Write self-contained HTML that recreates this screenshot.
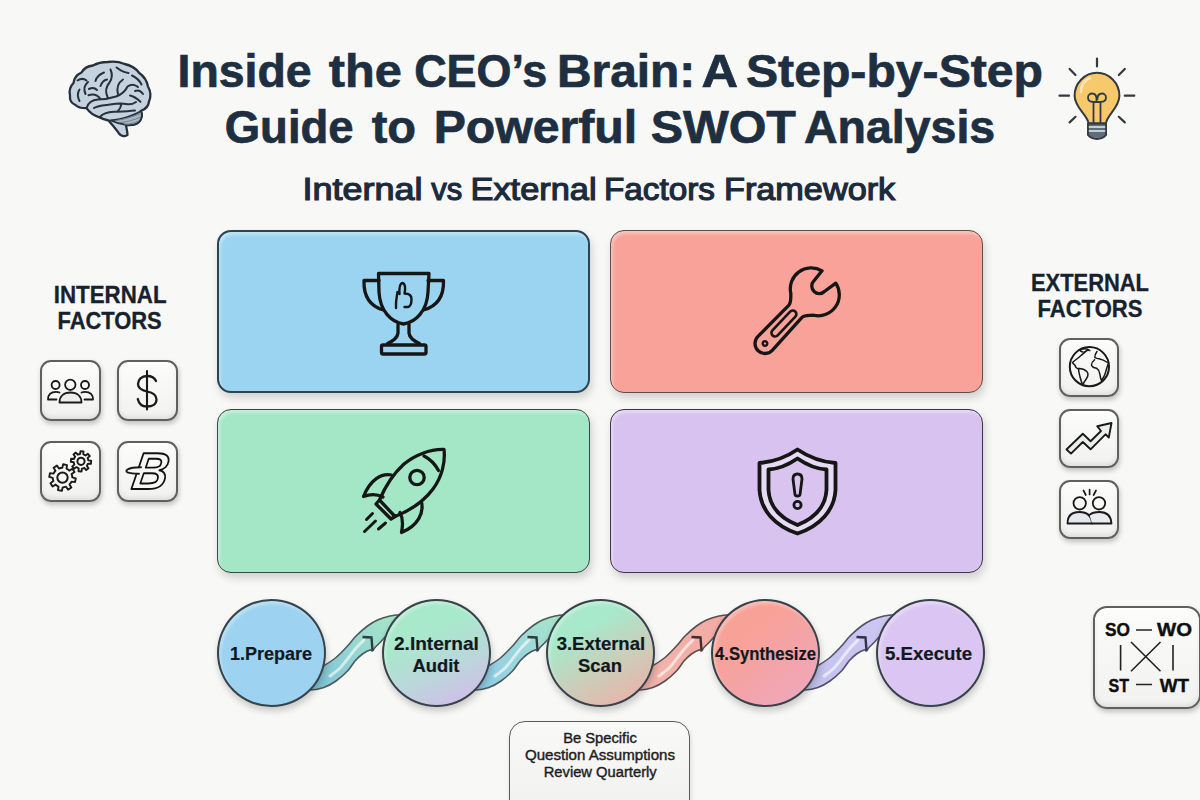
<!DOCTYPE html>
<html><head><meta charset="utf-8">
<style>
*{margin:0;padding:0;box-sizing:border-box}
html,body{width:1200px;height:800px;overflow:hidden;background:#f8f8f6}
body{position:relative;font-family:"Liberation Sans",sans-serif;color:#1c2b3b}
.abs{position:absolute}
.t{position:absolute;white-space:nowrap;line-height:1}
.quad{position:absolute;width:373px;height:163px;border-radius:14px;border:1.8px solid #3b4146;box-shadow:2px 5px 8px rgba(0,0,0,.16), inset 2px 3px 3px rgba(255,255,255,.35)}
.tile{position:absolute;width:61px;height:61px;border-radius:11px;border:2px solid #606060;background:linear-gradient(#fcfcfb,#f1f1f0);box-shadow:1px 3px 5px rgba(0,0,0,.22), inset 0 2px 2px rgba(255,255,255,.9), inset 0 -3px 4px rgba(0,0,0,.07)}
.circ{position:absolute;width:109px;height:108px;border-radius:50%;border:2.2px solid #37424a;box-shadow:1px 4px 7px rgba(0,0,0,.2), inset 2px 3px 3px rgba(255,255,255,.3)}
.lbl{position:absolute;font-weight:bold;text-align:center;color:#111a22;line-height:1}
</style></head><body>

<!-- quadrants -->
<div class="quad" style="left:217px;top:230px;background:#9bd4f0;border-color:#2c4350;border-width:2px"></div>
<div class="quad" style="left:610px;top:230px;background:#f8a29a;border-color:#5f4e4b;border-width:1.9px"></div>
<div class="quad" style="left:217px;top:409px;height:164px;background:#a3e7c6;border-color:#36483f"></div>
<div class="quad" style="left:610px;top:409px;height:164px;background:#d8c2f0;border-color:#3d3548"></div>

<!-- tiles -->
<div class="tile" style="left:40px;top:360px"></div>
<div class="tile" style="left:117px;top:360px"></div>
<div class="tile" style="left:40px;top:441px"></div>
<div class="tile" style="left:117px;top:441px"></div>
<div class="tile" style="left:1059px;top:338px;width:60px;height:59px"></div>
<div class="tile" style="left:1059px;top:409px;width:60px;height:59px"></div>
<div class="tile" style="left:1059px;top:480px;width:60px;height:59px"></div>

<!-- SWOT matrix tile -->
<div class="tile" style="left:1093px;top:606px;width:108px;height:103px;border-radius:14px"></div>

<!-- tips box -->
<div class="abs" style="left:509px;top:721px;width:181px;height:100px;border-radius:16px;border:1.8px solid #5a5a5a;background:linear-gradient(#f9f9f8,#f0f0ef);box-shadow:1px 3px 5px rgba(0,0,0,.12)"></div>


<!-- connectors -->
<svg class="abs" style="left:0;top:0" width="1200" height="800" viewBox="0 0 1200 800">
<defs>
<linearGradient id="cg1" gradientUnits="userSpaceOnUse" x1="310" y1="690" x2="395" y2="615"><stop offset="0" stop-color="#7cc2d8"/><stop offset=".45" stop-color="#92d3d2"/><stop offset="1" stop-color="#a8e6c8"/></linearGradient>
<linearGradient id="cg2" gradientUnits="userSpaceOnUse" x1="310" y1="690" x2="395" y2="615"><stop offset="0" stop-color="#8ecbe8"/><stop offset=".5" stop-color="#9cd6dc"/><stop offset="1" stop-color="#a8e6c8"/></linearGradient>
<linearGradient id="cg3" gradientUnits="userSpaceOnUse" x1="310" y1="690" x2="395" y2="615"><stop offset="0" stop-color="#f0b6ac"/><stop offset="1" stop-color="#f4aaa4"/></linearGradient>
<linearGradient id="cg4" gradientUnits="userSpaceOnUse" x1="310" y1="690" x2="395" y2="615"><stop offset="0" stop-color="#c2c2ee"/><stop offset="1" stop-color="#cdc7f2"/></linearGradient>
<path id="cp" d="M305.0 673.0 C307.2 672.2 314.8 669.8 318.0 668.5 C321.2 667.2 321.0 667.3 324.0 665.5 C327.0 663.7 332.1 660.8 336.0 657.5 C339.9 654.2 344.2 649.6 347.5 646.0 C350.8 642.4 352.7 639.3 356.0 636.0 C359.3 632.7 363.9 628.7 367.5 626.0 C371.1 623.3 373.8 621.7 377.5 620.0 C381.2 618.3 385.4 616.9 390.0 616.0 C394.6 615.1 402.5 614.8 405.0 614.5 L381 641.5C380.0 642.5 376.4 645.9 375.0 647.5 C373.6 649.1 373.3 650.6 372.5 651.0 C371.7 651.4 371.7 649.5 370.0 650.0 C368.3 650.5 365.0 652.2 362.5 654.0 C360.0 655.8 357.5 658.2 355.0 661.0 C352.5 663.8 350.7 667.7 347.5 671.0 C344.3 674.3 340.0 678.2 336.0 681.0 C332.0 683.8 327.9 686.0 323.8 687.5 C319.6 689.0 315.3 689.8 311.0 690.0 C306.7 690.2 300.2 689.2 298.0 689.0Z"/>
<path id="cm" d="M330.0 676.0 C331.7 674.7 336.8 671.2 340.0 668.0 C343.2 664.8 346.2 660.5 349.0 657.0 C351.8 653.5 354.5 649.8 357.0 647.0 C359.5 644.2 362.8 641.2 364.0 640.0"/>
<path id="ca" d="M362.5 637 L371.5 637.5 L372.5 650.5"/>
</defs>
<g>
<use href="#cp" fill="url(#cg1)" stroke="#4d5a5c" stroke-width="1.6"/><use href="#cm" fill="none" stroke="#ffffff" stroke-opacity=".6" stroke-width="3" stroke-linecap="round"/><use href="#ca" fill="none" stroke="#2f3b3d" stroke-width="2.4"/>
</g>
<g transform="translate(165,0)">
<use href="#cp" fill="url(#cg2)" stroke="#4d5a5c" stroke-width="1.6"/><use href="#cm" fill="none" stroke="#ffffff" stroke-opacity=".6" stroke-width="3" stroke-linecap="round"/><use href="#ca" fill="none" stroke="#2f3b3d" stroke-width="2.4"/>
</g>
<g transform="translate(329,0)">
<use href="#cp" fill="url(#cg3)" stroke="#5c4f4f" stroke-width="1.6"/><use href="#cm" fill="none" stroke="#ffffff" stroke-opacity=".6" stroke-width="3" stroke-linecap="round"/><use href="#ca" fill="none" stroke="#3d2f2f" stroke-width="2.4"/>
</g>
<g transform="translate(494,0)">
<use href="#cp" fill="url(#cg4)" stroke="#54506a" stroke-width="1.6"/><use href="#cm" fill="none" stroke="#ffffff" stroke-opacity=".6" stroke-width="3" stroke-linecap="round"/><use href="#ca" fill="none" stroke="#34304a" stroke-width="2.4"/>
</g>
</svg>

<!-- circles -->
<div class="circ" style="left:217px;top:599px;background:#9dd3f0"></div>
<div class="circ" style="left:382px;top:599px;background:linear-gradient(155deg,#a8e8cb 35%,#bcd6dc 65%,#d6b6ea)"></div>
<div class="circ" style="left:546px;top:599px;background:linear-gradient(150deg,#a8e8cb 30%,#cccdb9 62%,#f2aca4)"></div>
<div class="circ" style="left:711px;top:599px;background:linear-gradient(140deg,#f8a196 30%,#f0a6b4 80%,#e6aed0)"></div>
<div class="circ" style="left:876px;top:599px;background:#dbc6f3"></div>


<!-- overlay: text + icons -->
<svg class="abs" style="left:0;top:0" width="1200" height="800" viewBox="0 0 1200 800" font-family="Liberation Sans">
<g fill="#1d2f40" font-weight="bold" stroke="#1d2f40" stroke-width="0.7">
<text x="177.5" y="87" font-size="46" textLength="134.1" lengthAdjust="spacingAndGlyphs">Inside</text>
<text x="328.8" y="87" font-size="46" textLength="73.0" lengthAdjust="spacingAndGlyphs">the</text>
<text x="414.2" y="87" font-size="46" textLength="133.1" lengthAdjust="spacingAndGlyphs">CEO’s</text>
<text x="557.0" y="87" font-size="46" textLength="138.3" lengthAdjust="spacingAndGlyphs">Brain:</text>
<text x="701.6" y="87" font-size="46" textLength="36.6" lengthAdjust="spacingAndGlyphs">A</text>
<text x="746.0" y="87" font-size="46" textLength="297.0" lengthAdjust="spacingAndGlyphs">Step-by-Step</text>
<text x="224.7" y="142.5" font-size="46" textLength="129.0" lengthAdjust="spacingAndGlyphs">Guide</text>
<text x="371.7" y="142.5" font-size="46" textLength="44.4" lengthAdjust="spacingAndGlyphs">to</text>
<text x="433.7" y="142.5" font-size="46" textLength="203.5" lengthAdjust="spacingAndGlyphs">Powerful</text>
<text x="650.7" y="142.5" font-size="46" textLength="145.2" lengthAdjust="spacingAndGlyphs">SWOT</text>
<text x="804.0" y="142.5" font-size="46" textLength="191.2" lengthAdjust="spacingAndGlyphs">Analysis</text>
</g>
<g font-size="32" fill="#1c2b3b" stroke="#1c2b3b" stroke-width="1.2">
<text x="302.5" y="200" textLength="120.1" lengthAdjust="spacingAndGlyphs">Internal</text>
<text x="431.2" y="200" textLength="31.0" lengthAdjust="spacingAndGlyphs">vs</text>
<text x="470.5" y="200" textLength="126.1" lengthAdjust="spacingAndGlyphs">External</text>
<text x="604.0" y="200" textLength="111.0" lengthAdjust="spacingAndGlyphs">Factors</text>
<text x="724.0" y="200" textLength="171.2" lengthAdjust="spacingAndGlyphs">Framework</text>
</g>
<g fill="#17222e" font-weight="bold" font-size="23" stroke="#17222e" stroke-width="0.3">
<text x="53.8" y="303" textLength="112.8" lengthAdjust="spacingAndGlyphs">INTERNAL</text>
<text x="57.5" y="328.8" textLength="104.2" lengthAdjust="spacingAndGlyphs">FACTORS</text>
<text x="1031.0" y="290.8" textLength="118.0" lengthAdjust="spacingAndGlyphs">EXTERNAL</text>
<text x="1037.5" y="316.8" textLength="105.0" lengthAdjust="spacingAndGlyphs">FACTORS</text>
</g>
<!-- step labels -->
<g fill="#111820" font-weight="bold" font-size="18.5" stroke="#111820" stroke-width="0.2">
<text x="230.0" y="660" textLength="82.0" lengthAdjust="spacingAndGlyphs">1.Prepare</text>
<text x="394.0" y="650" textLength="84.8" lengthAdjust="spacingAndGlyphs">2.Internal</text>
<text x="412.5" y="671.7" textLength="47.0" lengthAdjust="spacingAndGlyphs">Audit</text>
<text x="556.7" y="650.3" textLength="88.4" lengthAdjust="spacingAndGlyphs">3.External</text>
<text x="578.0" y="672" textLength="44.0" lengthAdjust="spacingAndGlyphs">Scan</text>
<text x="715.0" y="660" textLength="101.0" lengthAdjust="spacingAndGlyphs">4.Synthesize</text>
<text x="885.0" y="660" textLength="87.0" lengthAdjust="spacingAndGlyphs">5.Execute</text>
</g>
<!-- tips -->
<g fill="#1e1e1e" font-size="14" text-anchor="middle" stroke="#1e1e1e" stroke-width="0.4">
<text x="600" y="743.3" textLength="73.7" lengthAdjust="spacingAndGlyphs">Be Specific</text>
<text x="600" y="760" textLength="150" lengthAdjust="spacingAndGlyphs">Question Assumptions</text>
<text x="600.2" y="776.7" textLength="113" lengthAdjust="spacingAndGlyphs">Review Quarterly</text>
</g>
<!-- swot matrix -->
<g fill="#0e0e0e" font-weight="bold" font-size="19" stroke="#0e0e0e" stroke-width="0.4">
<text x="1105" y="636.3" textLength="25" lengthAdjust="spacingAndGlyphs">SO</text>
<text x="1157" y="636.3" textLength="35" lengthAdjust="spacingAndGlyphs">WO</text>
<text x="1108.5" y="691.6" textLength="20.5" lengthAdjust="spacingAndGlyphs">ST</text>
<text x="1159.7" y="691.6" textLength="29.3" lengthAdjust="spacingAndGlyphs">WT</text>
</g>
<g stroke="#222" stroke-width="1.6" fill="none">
<path d="M1136 630 H1152 M1136 684.5 H1152 M1120.6 645 V670.5 M1173 645 V670.5 M1131 642 L1160.5 671.3 M1160.5 642 L1131 671.3"/>
</g>

<!-- quadrant icons -->
<g fill="none" stroke="#161616" stroke-width="3.3" stroke-linecap="round" stroke-linejoin="round">
<!-- trophy -->
<path d="M378.5 273.5 L429 273.5 L428 292 C427 311 416 322 403.5 324 C391 322 380 311 379 292 Z"/>
<path d="M379 280.5 L364 280.5 C363.5 296 369 306 383.5 310 M428 280.5 L443.5 280.5 C444 296 438 306 423.5 310"/>
<path d="M398 324.5 L398 333 C397.5 338 393 341 387.5 343.5 M409 324.5 L409 333 C409.5 338 414 341 419.5 343.5"/>
<rect x="381.5" y="345" width="44.5" height="9" rx="1.5"/>
<path stroke-width="2.4" d="M396 308 C395.5 301 397 296 397.5 292 M399.5 294 C399 287 400 283.5 402.5 283 C405.5 283.5 405.5 289 404.5 293.5 C409 293.5 411.5 295 411.5 299 C411.5 303.5 410.5 306.5 408 307 L404.5 307"/>
<!-- wrench -->
<g transform="translate(765 343.5) rotate(-46.6)">
<path d="M0 -10 L44 -9 C48 -9 50 -12 54 -15.5 A21 21 0 0 1 92 -8.5 L79 -7.5 A7.5 7.5 0 0 0 79 7.5 L92.5 10 A21 21 0 0 1 54 16 C50 12.5 48 9 44 9 L0 10 A10 10 0 0 1 0 -10 Z"/>
<rect x="11" y="-3.6" width="33" height="7.2" rx="3.6" stroke-width="2.6"/>
<circle cx="0" cy="0" r="2.3" stroke-width="2.4"/>
</g>
<!-- rocket -->
<path d="M444 449.5 C430 449 415 455 404 464 C393 474 385 487 379.5 500 L395 516.5 C409 511 424 501 433 489 C442 477 445.5 462 444 449.5 Z"/>
<path d="M424 456 C430 459 435 464 438.5 470.5"/>
<circle cx="417" cy="477.5" r="7.2"/>
<path d="M391.5 475 C381 473 370 480 363.5 496.5 C370 494 377 494 383 497"/>
<path d="M421.5 502 C424 513 418 526 401.5 532.5 C403 525 403 518 400 512.5"/>
<path d="M379.5 500 L376 504 L391 519 L395 516.5"/>
<path stroke-width="3" d="M366.5 519.5 L372.5 513.5 M364.5 531.5 L375.5 521 M378.5 529 L385.5 523"/>
<!-- shield -->
<path stroke-width="3.8" fill="#e6dbf3" d="M797.5 449.5 C785 458 772 462 759.5 463 L759.5 490 C760.5 510 775 526 797.5 533.5 C820 526 834.5 510 835.5 490 L835.5 463 C823 462 810 458 797.5 449.5 Z"/>
<path stroke-width="3.8" fill="#d9c4f0" d="M797.5 458.5 C788 465 778 469 768.5 469.5 L768.5 490 C769.5 506 780 518 797.5 525 C815 518 825.5 506 826.5 490 L826.5 469.5 C817 469 807 465 797.5 458.5 Z"/>
<path stroke-width="2.8" d="M793 479 C793 475.5 795 474 797.5 474 C800 474 802 475.5 802 479 L800 494.5 C799.7 496.5 795.3 496.5 795 494.5 Z"/>
<circle cx="797.5" cy="505" r="3.6" stroke-width="2.8"/>
</g>

<!-- tile icons -->
<g fill="none" stroke="#1a1a1a" stroke-width="1.8" stroke-linecap="round" stroke-linejoin="round">
<!-- people -->
<circle cx="70.3" cy="384.8" r="5.2"/>
<circle cx="55.6" cy="385" r="4"/>
<circle cx="85" cy="385" r="4"/>
<path d="M59.5 402.5 C59.5 396 64 392.5 70.5 392.5 C77 392.5 81.5 396 81.5 402.5 Z" fill="#eeeeed"/>
<path d="M48 399.5 C48 394.5 51 391.8 56 391.8 C57.5 391.8 58.5 392 59.5 392.5 M56.5 399.5 L48 399.5"/>
<path d="M93 399.5 C93 394.5 90 391.8 85 391.8 C83.5 391.8 82.5 392 81.5 392.5 M84.5 399.5 L93 399.5"/>
<!-- dollar -->
<path stroke-width="2.1" d="M147 371 V409.5"/>
<path stroke-width="2.3" d="M156 381 C154.5 377.5 151 376 147 376 C141.5 376 138 379.5 138 384 C138 389 142.5 390.5 147 391.5 C152 392.5 156.5 394.5 156.5 399.5 C156.5 404 152.5 406.5 147 406.5 C142.5 406.5 139 404.5 137.8 399"/>
<!-- gears -->
<path stroke-width="1.9" d="M62.3 467.8 L63.2 464.3 L67.0 465.1 L66.5 468.6 A9.8 9.8 0 0 1 69.3 470.6 L72.4 468.7 L74.5 472.0 L71.6 474.1 A9.8 9.8 0 0 1 72.3 477.4 L75.8 478.3 L75.0 482.1 L71.5 481.6 A9.8 9.8 0 0 1 69.5 484.4 L71.4 487.5 L68.1 489.6 L66.0 486.7 A9.8 9.8 0 0 1 62.7 487.4 L61.8 490.9 L58.0 490.1 L58.5 486.6 A9.8 9.8 0 0 1 55.7 484.6 L52.6 486.5 L50.5 483.2 L53.4 481.1 A9.8 9.8 0 0 1 52.7 477.8 L49.2 476.9 L50.0 473.1 L53.5 473.6 A9.8 9.8 0 0 1 55.5 470.8 L53.6 467.7 L56.9 465.6 L59.0 468.5 A9.8 9.8 0 0 1 62.3 467.8Z"/>
<circle cx="62.5" cy="477.6" r="5.2" stroke-width="2"/>
<path stroke-width="1.9" d="M80.1 454.0 L80.5 451.1 L83.5 451.4 L83.3 454.3 A7.4 7.4 0 0 1 85.6 455.5 L87.9 453.8 L89.8 456.1 L87.6 458.0 A7.4 7.4 0 0 1 88.3 460.4 L91.2 460.8 L90.9 463.8 L88.0 463.6 A7.4 7.4 0 0 1 86.8 465.9 L88.5 468.2 L86.2 470.1 L84.3 467.9 A7.4 7.4 0 0 1 81.9 468.6 L81.5 471.5 L78.5 471.2 L78.7 468.3 A7.4 7.4 0 0 1 76.4 467.1 L74.1 468.8 L72.2 466.5 L74.4 464.6 A7.4 7.4 0 0 1 73.7 462.2 L70.8 461.8 L71.1 458.8 L74.0 459.0 A7.4 7.4 0 0 1 75.2 456.7 L73.5 454.4 L75.8 452.5 L77.7 454.7 A7.4 7.4 0 0 1 80.1 454.0Z"/>
<circle cx="81" cy="461.3" r="3.6" stroke-width="2"/>
<!-- B -->
<text transform="translate(0 488.8) skewX(-9) translate(0 -488.8)" x="130.5" y="488.8" font-size="52" font-weight="bold" font-style="italic" fill="#f6f6f5" stroke="#111" stroke-width="1.9" stroke-linejoin="round" textLength="35.5" lengthAdjust="spacingAndGlyphs">B</text>
<path stroke-width="1.9" fill="#f6f6f5" d="M141 467.3 C135 467.3 130 468 127.5 469.5 C126 470.5 126 471.6 127.5 472.4 C130 473.4 134 473.7 139 473.7"/>
<!-- globe -->
<circle cx="1089.4" cy="366.7" r="19.6" stroke-width="2"/>
<path stroke-width="1.5" d="M1072.5 362.5 C1075 360 1078.5 358 1081 355.5 C1083 353.5 1085 352.5 1086 351 C1087.5 350 1089 350.3 1089.8 350.6 C1088 349 1084 348.5 1080.5 349.5 C1079 350.2 1080.5 351.2 1082 351.5 M1072.8 363.2 C1074.5 364.5 1075.5 366 1076 367.5 C1077 368.5 1078 369 1079 368.6"/>
<path stroke-width="1.5" d="M1078.5 368.5 C1081 368.4 1084.5 369.3 1086.8 371.5 C1088.5 373.5 1088.2 376 1086.5 378.5 C1085 380.5 1083.5 382.5 1082.8 385.5 C1081.5 382 1080.5 379 1079.8 376 C1079.2 373.5 1078.5 371 1078.5 368.5 Z"/>
<path stroke-width="1.5" d="M1097 351.5 C1095.5 353.5 1094.5 355.5 1094.8 357.5 C1096 358.5 1097.5 358.5 1099 358.8 C1101.5 359.3 1104.5 360.5 1107.5 362.5 M1094.5 359.8 C1092.8 361.3 1091.5 363 1091.5 365 C1092 367 1094 367.8 1096.5 368.2 C1098.5 369.5 1099.5 371.5 1099.8 374 C1100.2 376.5 1100.5 378.5 1101.4 380.5 C1103.5 378 1104.8 375.5 1105.5 372.5 C1106.3 369.5 1107 367 1108 364.5"/>
<path stroke-width="1.2" d="M1081.5 351.8 C1083 352.3 1084.5 352.5 1086 351.2"/>
<!-- trend -->
<path stroke-width="1.9" d="M1066.5 449.5 L1082.8 433.8 L1090.6 441.2 L1101 431 L1097.2 426.2 L1111.5 423 L1108.8 437.5 L1105.5 434.3 L1090.6 449.3 L1082.8 442 L1071 453.6 Z" fill="#eaf1ec"/>
<!-- people2 -->
<circle cx="1079.7" cy="503.3" r="6.2"/>
<circle cx="1099" cy="503.3" r="6.2"/>
<path d="M1067.5 523.5 C1067.5 515.5 1072.5 512 1079.5 512 C1086.5 512 1091.5 515.5 1092 523.5 Z" fill="#e4e8ec"/>
<path d="M1089.5 514.8 C1091.5 513 1095 512 1099.5 512 C1106 512 1111 515.5 1111.5 523.5 L1092 523.5" fill="#e8ecef"/>
<path stroke-width="1.7" d="M1083.5 490.5 L1085.8 495 M1089.6 489.5 V494.5 M1096 490.5 L1093.6 495"/>
</g>

<!-- brain -->
<g stroke="#26313a" stroke-width="2.3" stroke-linejoin="round" stroke-linecap="round">
<path fill="#c6d2de" d="M108.5 120.5 C112 124.5 116.5 129.5 119 133.5 C121 136.5 125.5 136.8 127.5 135 C127.5 131.5 126.3 128 126 124.8 C130.5 125.5 136 124.8 139 122 C141.8 119 142.3 114.5 141 110.8 C145 109.5 148.5 106 149 101.5 C151 97 150.5 91 148 86.5 C147 81 143.5 76 139 72.8 C135.5 68 130 65 124.5 64 C120 62 113 61.3 107.5 62 C102.5 62 97.5 63 93 65.5 C88 66 83.5 69 81.5 72.5 C77 74.5 74 78.5 73.5 83 C70.5 86 69 91 70 95.5 C69.5 100 72 103.5 75.5 105 C78 107.5 82 108.3 86.5 108.2 C89.5 112.5 94 115.8 99.5 117.3 C102.5 119.2 105.5 120 108.5 120.5 Z"/>
<path fill="#a9b7c4" stroke-width="1.8" d="M110 120.3 C116 120 123 118.5 130 116 C135 114.3 139 112.5 141.2 110.8 C142.3 114.5 141.8 119 139 122 C136 124.8 130.5 125.5 126 124.8 C121 124.3 115 122.5 110 120.3 Z"/>
<path fill="none" stroke-width="1" stroke="#6f7f8c" d="M116 120.5 C124 119.5 132 117 139.8 113.8 M120 122.6 C127 122 134 120 140.2 117.3 M125 124.3 C130 124.2 135 123 138.7 121"/>
<path fill="none" stroke-width="2" d="M86.5 108.2 C88 103 92 100 98 99.6 C104 99.3 110 98.5 116 96.5 C121.5 94.5 125.5 91 127.5 86.5 M99.5 117.3 C103 113 108 112 114 111.8 C121 111.5 128 111.3 135 110.5 M94 108 C98 105.5 104 105.3 110 104.5 C116 103.6 121 103 126 104 C130 105 133 104 136 102 M130 95.5 C134 96.2 137.5 99 140.5 101.8 M118 94 C116.5 88 118.5 82.5 123 79.5 M127.5 86.5 C131 84 135 84.5 138 87 M107.5 97 C105 91.5 106.5 86 109.5 82.5 C112 79 112.5 74 110.5 69.5 M100.5 99 C97.5 95 93 93.8 88.5 95.3 M85.5 94 C83.5 89.5 84.5 85 88 82 M95.5 81 C96.5 77 100 74 104 72.5 M79.5 101 C77.5 97 77.5 92.5 79.5 89.5 M116.5 67.5 C120.5 70.5 124 72.5 128.5 73 M132 75.5 C136 77.5 139.5 80 141.5 84.5 M77.5 80.5 C80.5 78.5 84 78.5 86.5 80.5 M89 89 C92 87.5 95 88 97 90 M143 94 C141 91 138 90 135 91 M100.5 86 C102 82 104.5 80 107 79.5 M121.5 103.8 C121 107 120 109 117.5 111.5"/>
</g>

<!-- bulb -->
<g stroke="#333a40" stroke-width="2" stroke-linecap="round" stroke-linejoin="round">
<path fill="#f7c96a" d="M1088.5 123.5 C1088 115 1075 108.5 1074.6 96 C1074.5 83 1085 72.8 1097 72.8 C1109 72.8 1119.5 83 1119.4 96 C1119 108.5 1106.5 115 1106 123.5 Z"/>
<path fill="none" stroke="#fff" stroke-opacity=".5" stroke-width="2.5" d="M1081 92 C1081 85 1085 80 1090 78"/>
<path fill="none" stroke-width="1.8" d="M1093.5 123 L1093.5 102 C1090 102 1088 100 1088 97.5 C1088 95 1090 93.5 1092 93.5 C1095 93.5 1096.5 96 1096.5 99 L1096.5 102 M1100.5 123 L1100.5 102 C1104 102 1106 100 1106 97.5 C1106 95 1104 93.5 1102 93.5 C1099 93.5 1097.5 96 1097.5 99 M1093.5 102 L1100.5 102"/>
<path fill="#5f6e7a" d="M1088 123.5 L1106 123.5 L1106 135 C1104 137.5 1101 139 1097 139 C1093 139 1090 137.5 1088 135 Z"/>
<path fill="none" stroke="#c5ced5" stroke-width="1.8" d="M1089.5 127 H1104.5 M1089.5 131 H1104.5"/>
<path fill="none" stroke-width="2.2" d="M1097 58.5 V66.5 M1059.5 95.7 H1069 M1124.8 95.7 H1134.3 M1069.6 69 L1075.5 75 M1124.8 69 L1118.8 75 M1069.6 122.4 L1075.5 116.8 M1124.8 122.4 L1118.8 116.8"/>
</g>
</svg>

</body></html>
